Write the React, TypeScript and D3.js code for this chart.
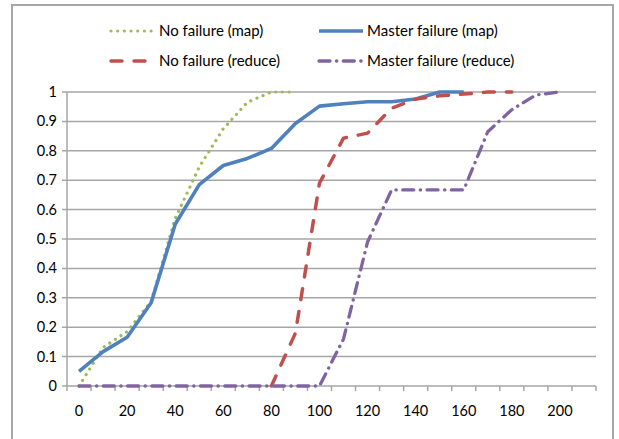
import React from "react";
import * as d3 from "d3";

const categories = [0, 10, 20, 30, 40, 50, 60, 70, 80, 90, 100, 110, 120, 130, 140, 150, 160, 170, 180, 190, 200, 210];
const xTickLabels = [0, 20, 40, 60, 80, 100, 120, 140, 160, 180, 200];
const yTicks = [0, 0.1, 0.2, 0.3, 0.4, 0.5, 0.6, 0.7, 0.8, 0.9, 1];

const noFailureMap = [0, 0.131, 0.185, 0.288, 0.57, 0.745, 0.875, 0.965, 1, 1];
const masterFailureMap = [0.05, 0.117, 0.166, 0.283, 0.55, 0.685, 0.75, 0.774, 0.808, 0.893, 0.952, 0.96, 0.967, 0.967, 0.976, 1, 1];
const noFailureReduce = [null, null, null, null, null, null, null, null, 0, 0.18, 0.69, 0.843, 0.86, 0.945, 0.976, 0.987, 0.993, 1, 1];
const masterFailureReduce = [0, 0, 0, 0, 0, 0, 0, 0, 0, 0, 0, 0.16, 0.49, 0.667, 0.667, 0.667, 0.667, 0.865, 0.94, 0.99, 1];

const seriesNames = ["No failure (map)", "Master failure (map)", "No failure (reduce)", "Master failure (reduce)"];

const GRID = "#a6a6a6";
const FONT = "Lato, 'Open Sans', sans-serif";

const styles = [
  { color: "#9BBB59", width: 3.2, dash: "0.01,6.67", cap: "round" },
  { color: "#4F81BD", width: 3.6, dash: null, cap: "butt" },
  { color: "#C0504D", width: 3.5, dash: "11,12", cap: "round" },
  { color: "#8064A2", width: 3.3, dash: "11,6.5,0.3,6.5", cap: "round" },
];

export default function App() {
  const W = 619, H = 439;
  const left = 67, right = 596, top = 92, bottom = 386;
  const x = d3.scaleBand<number>().domain(categories).range([left, right]).padding(0);
  const cx = (v: number) => (x(v) as number) + x.bandwidth() / 2;
  const y = d3.scaleLinear().domain([0, 1]).range([bottom, top]);

  const allSeries = [noFailureMap, masterFailureMap, noFailureReduce, masterFailureReduce];
  const line = d3
    .line<number | null>()
    .defined((d) => d !== null)
    .x((_, i) => cx(categories[i]))
    .y((d) => y(d as number));

  const legendPos = [
    { lx: 111, ly: 31 },
    { lx: 319, ly: 31 },
    { lx: 111, ly: 61 },
    { lx: 319, ly: 61 },
  ];

  const tickEdges = categories.map((c) => x(c) as number).concat([right]);

  return (
    <svg width={W} height={H} style={{ position: "absolute", left: 0, top: 0, background: "#fff" }}>
      <rect x={12} y={5} width={601} height={470} fill="#fff" stroke={GRID} strokeWidth={2} />
      {yTicks.map((t) => (
        <line key={t} x1={left - 5} x2={right} y1={y(t)} y2={y(t)} stroke={GRID} strokeWidth={1.5} />
      ))}
      <line x1={left} x2={left} y1={top} y2={bottom} stroke={GRID} strokeWidth={1.5} />
      {tickEdges.map((e, i) => (
        <line key={i} x1={e} x2={e} y1={bottom} y2={bottom + 5} stroke={GRID} strokeWidth={1.5} />
      ))}
      {yTicks.map((t) => (
        <text key={t} x={57} y={y(t)} dy="0.35em" textAnchor="end" fontFamily={FONT} fontSize={14.5} fill="#000">
          {d3.format("")(t)}
        </text>
      ))}
      {xTickLabels.map((t) => (
        <text key={t} x={cx(t)} y={416} textAnchor="middle" fontFamily={FONT} fontSize={14.5} fill="#000">
          {t}
        </text>
      ))}
      {allSeries.map((s, i) => (
        <path
          key={i}
          d={line(s) || ""}
          fill="none"
          stroke={styles[i].color}
          strokeWidth={styles[i].width}
          strokeDasharray={styles[i].dash || undefined}
          strokeLinecap={styles[i].cap as any}
          strokeLinejoin="round"
        />
      ))}
      {seriesNames.map((n, i) => (
        <g key={n}>
          <line
            x1={legendPos[i].lx}
            x2={legendPos[i].lx + 44}
            y1={legendPos[i].ly}
            y2={legendPos[i].ly}
            stroke={styles[i].color}
            strokeWidth={styles[i].width}
            strokeDasharray={styles[i].dash || undefined}
            strokeLinecap={styles[i].cap as any}
          />
          <text x={legendPos[i].lx + 48} y={legendPos[i].ly} dy="0.35em" fontFamily={FONT} fontSize={15} fill="#000">
            {n}
          </text>
        </g>
      ))}
    </svg>
  );
}
